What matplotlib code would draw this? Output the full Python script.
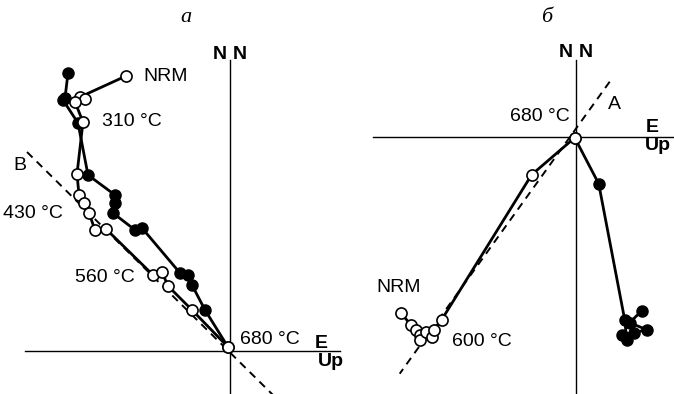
import matplotlib.pyplot as plt

plt.rcParams['font.family'] = ['Liberation Sans', 'DejaVu Sans']

# panel a: horizontal (filled) and vertical (open) projections
a_hx = [-16.2, -16.5, -16.7, -15.2, -14.2, -11.5, -11.5, -11.7, -9.5, -8.8, -5.0, -4.2, -3.8, -2.5, -0.2]
a_hy = [27.8, 25.3, 25.1, 22.8, 17.6, 15.6, 14.8, 13.8, 12.1, 12.3, 7.8, 7.6, 6.6, 4.1, 0.4]
a_vx = [-10.4, -15.0, -14.5, -15.5, -14.7, -15.3, -15.1, -14.6, -14.1, -13.5, -12.4, -7.7, -6.8, -6.2, -3.8, -0.2]
a_vy = [27.5, 25.4, 25.2, 24.9, 22.9, 17.7, 15.6, 14.8, 13.8, 12.1, 12.2, 7.6, 7.9, 6.5, 4.1, 0.4]
a_line_x = [-20.3, 4.3]
a_line_y = [19.9, -4.4]

# panel b
b_vx = [-17.5, -16.5, -16.0, -15.6, -15.6, -15.0, -14.4, -14.2, -13.4, -4.4, -0.1]
b_vy = [-17.6, -18.8, -19.3, -19.8, -20.3, -19.5, -20.0, -19.3, -18.3, -3.8, -0.1]
b_hx = [6.6, 5.4, 7.1, 5.8, 4.6, 5.1, 4.9, 2.3, -0.1]
b_hy = [-17.4, -18.6, -19.3, -19.6, -19.8, -20.3, -18.3, -4.7, -0.1]
b_line_x = [3.4, -17.6]
b_line_y = [5.5, -23.7]

fig = plt.figure(figsize=(6.74, 3.94), dpi=100)
axa = fig.add_axes([0, 0, 0.5, 364 / 394])
axb = fig.add_axes([0.5, 0, 0.5, 364 / 394])

fs = 14
lw = 2.0
ms = 8


def draw(ax, hx, hy, vx, vy, lx, ly):
    ax.plot(lx, ly, color='black', lw=1.4, ls=(0, (4, 3)), zorder=2)
    ax.plot(hx, hy, color='black', lw=lw, marker='o', ms=ms, mfc='black',
            mec='black', zorder=3)
    ax.plot(vx, vy, color='black', lw=lw, marker='o', ms=ms, mfc='white',
            mec='black', mew=1.2, zorder=4)
    ax.set_aspect('equal')
    ax.axis('off')


draw(axa, a_hx, a_hy, a_vx, a_vy, a_line_x, a_line_y)
axa.set_xlim(-23, 10.7)
axa.set_ylim(-4.3, 32.1)
axa.plot([-20.5, 11], [0, 0], color='black', lw=1.0, zorder=1, clip_on=False)
axa.plot([0, 0], [29.1, -4.3], color='black', lw=1.0, zorder=1)
axa.text(-8.7, 27.5, 'NRM', fontsize=fs, va='center')
axa.text(-12.8, 23.0, '310 °C', fontsize=fs, va='center')
axa.text(-21, 18.5, 'B', fontsize=fs, va='center', ha='center')
axa.text(-22.7, 13.8, '430 °C', fontsize=fs, va='center')
axa.text(-15.5, 7.3, '560 °C', fontsize=fs, va='center')
axa.text(1.0, 1.1, '680 °C', fontsize=fs, va='center')
axa.text(8.5, 0.8, 'E', fontsize=fs, va='center', fontweight='bold')
axa.text(8.8, -1.1, 'Up', fontsize=fs, va='center', fontweight='bold')
axa.text(-0.3, 29.7, 'N', fontsize=fs, va='center', ha='right', fontweight='bold')
axa.text(0.3, 29.7, 'N', fontsize=fs, va='center', ha='left', fontweight='bold')

draw(axb, b_hx, b_hy, b_vx, b_vy, b_line_x, b_line_y)
axb.set_xlim(-23.87, 9.83)
axb.set_ylim(-25.73, 10.67)
axb.plot([-20.3, 10], [0, 0], color='black', lw=1.0, zorder=1)
axb.plot([0, 0], [7.7, -25.73], color='black', lw=1.0, zorder=1)
axb.text(3.9, 3.2, 'A', fontsize=fs, va='center', ha='center')
axb.text(-0.6, 2.0, '680 °C', fontsize=fs, va='center', ha='right')
axb.text(7.0, 0.9, 'E', fontsize=fs, va='center', fontweight='bold')
axb.text(6.9, -0.9, 'Up', fontsize=fs, va='center', fontweight='bold')
axb.text(-19.9, -15.1, 'NRM', fontsize=fs, va='center')
axb.text(-12.4, -20.5, '600 °C', fontsize=fs, va='center')
axb.text(-0.3, 8.4, 'N', fontsize=fs, va='center', ha='right', fontweight='bold')
axb.text(0.3, 8.4, 'N', fontsize=fs, va='center', ha='left', fontweight='bold')

fig.text(186 / 674, 1 - 18 / 394, 'а', fontsize=16, style='italic',
         family='Liberation Serif', ha='center', va='center')
fig.text(547 / 674, 1 - 18 / 394, 'б', fontsize=16, style='italic',
         family='Liberation Serif', ha='center', va='center')

fig.savefig('out.png', dpi=100)
